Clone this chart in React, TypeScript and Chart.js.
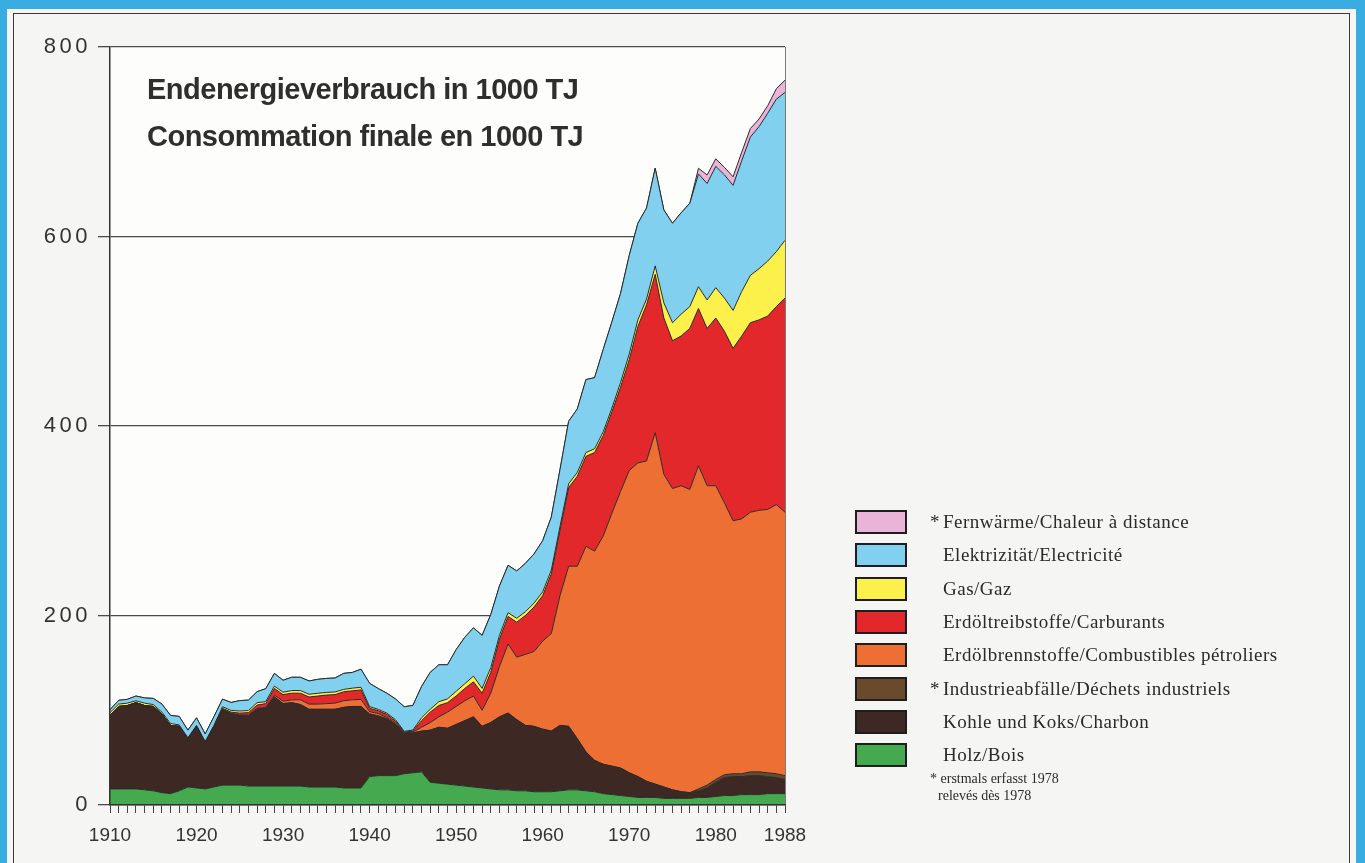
import React, { useEffect, useRef } from "react";
import { Chart, registerables } from "chart.js";

Chart.register(...registerables);

const years: number[] = [];
for (let y = 1910; y <= 1988; y++) years.push(y);

const labelYears = [1910, 1920, 1930, 1940, 1950, 1960, 1970, 1980, 1988];
const yTicks = [0, 200, 400, 600, 800];

const holz = [
  17, 17, 17, 17, 16, 15, 13, 12, 15, 19,
  18, 17, 19, 21, 21, 21, 20, 20, 20, 20,
  20, 20, 20, 19, 19, 19, 19, 18, 18, 18,
  30, 31, 31, 31, 33, 34, 35, 24, 23, 22,
  21, 20, 19, 18, 17, 16, 16, 15, 15, 14,
  14, 14, 15, 16, 16, 15, 14, 12, 11, 10,
  9, 8, 8, 8, 7, 7, 7, 7, 8, 8,
  9, 10, 10, 11, 11, 11, 12, 12, 12,
];
const kohle = [
  78, 87, 88, 91, 89, 89, 83, 72, 68, 51,
  65, 49, 63, 79, 75, 73, 74, 81, 82, 94,
  87, 88, 86, 82, 82, 82, 82, 85, 86, 86,
  66, 63, 60, 54, 42, 42, 43, 55, 59, 59,
  64, 69, 74, 65, 70, 77, 81, 75, 69, 69,
  66, 64, 69, 67, 54, 41, 33, 31, 30, 29,
  25, 22, 17, 14, 12, 9, 7, 6, 7, 10,
  15, 19, 20, 19, 20, 20, 18, 17, 15,
];
const industrie = [
  0, 0, 0, 0, 0, 0, 0, 0, 0, 0,
  0, 0, 0, 0, 0, 0, 0, 0, 0, 0,
  0, 0, 0, 0, 0, 0, 0, 0, 0, 0,
  0, 0, 0, 0, 0, 0, 0, 0, 0, 0,
  0, 0, 0, 0, 0, 0, 0, 0, 0, 0,
  0, 0, 0, 0, 0, 0, 0, 0, 0, 0,
  0, 0, 0, 0, 0, 0, 0, 0, 2, 3,
  3, 3, 3, 3, 4, 4, 4, 4, 4,
];
const brennstoffe = [
  0, 0, 0, 0, 0, 0, 0, 0, 0, 0,
  0, 0, 0, 1, 1, 1, 1, 1, 1, 2,
  2.5, 3, 5, 5.5, 5.5, 6, 6.5, 7, 7, 7.5,
  2.5, 2.5, 1.5, 1.5, 1, 1, 4, 8, 11, 17,
  19, 21, 22, 17, 31, 53, 73, 66, 75, 79,
  93, 103, 137, 169, 182, 217, 221, 241, 267, 292,
  319, 331, 338, 371, 330, 318, 323, 320, 341, 316,
  310, 287, 267, 269, 274, 276, 278, 284, 278,
];
const treibstoffe = [
  0, 0, 0, 0, 0, 0, 0, 0, 0, 0,
  0, 0, 0.5, 1, 1, 2, 2.5, 3.5, 4, 7,
  7, 7, 7, 7.5, 8.5, 9, 9, 9.5, 9.5, 10,
  3.5, 3, 3, 2, 1, 1, 7, 11, 12, 10,
  11, 13, 15, 18, 22, 29, 29, 37, 41, 47,
  48, 63, 69, 83, 95, 95, 104, 106, 107, 110,
  117, 144, 165, 167, 165, 156, 158, 170, 166, 166,
  177, 181, 182, 193, 200, 201, 204, 209, 226,
];
const gas = [
  2.5, 2.5, 2.5, 2, 2.5, 2, 2, 2, 1.5, 1,
  1, 1, 1.5, 1.7, 1.8, 2.2, 2.2, 2.5, 2.1, 2.5,
  2.5, 2.8, 2.8, 2.9, 2.9, 2.8, 2.8, 2.5, 2.8, 2.8,
  1.8, 1.4, 1.4, 1.4, 0.7, 1.1, 3, 3, 4, 4,
  5, 5, 6, 5, 5, 4, 4, 4, 4, 4,
  4, 4, 4, 4, 4, 4, 4, 4, 4, 5,
  6, 7, 6, 9, 16, 19, 23, 23, 23, 30,
  32, 35, 40, 47, 50, 54, 58, 58, 61,
];
const elektrizitaet = [
  3, 4, 4, 5, 5.5, 6.5, 8.5, 8.5, 9, 8,
  8, 8, 9, 8, 8.4, 11, 11, 11.6, 13.7, 13.4,
  12.6, 14, 14, 14, 14.7, 14.8, 14.7, 16.9, 16.6, 19,
  24.6, 22, 21, 22, 26, 26, 33, 39, 39, 36,
  44, 49, 51, 56, 56, 52, 50, 50, 51, 52,
  54, 56, 60, 66, 67, 77, 75, 87, 91, 94,
  104, 102, 96, 103, 98, 105, 107, 109, 119, 123,
  128, 130, 132, 138, 146, 150, 156, 161, 156,
];
const fernwaerme = [
  0, 0, 0, 0, 0, 0, 0, 0, 0, 0,
  0, 0, 0, 0, 0, 0, 0, 0, 0, 0,
  0, 0, 0, 0, 0, 0, 0, 0, 0, 0,
  0, 0, 0, 0, 0, 0, 0, 0, 0, 0,
  0, 0, 0, 0, 0, 0, 0, 0, 0, 0,
  0, 0, 0, 0, 0, 0, 0, 0, 0, 0,
  0, 0, 0, 0, 0, 0, 0, 0, 6, 9,
  8, 8, 9, 9, 9, 8, 8, 11, 13,
];

const seriesNames = [
  "Holz/Bois",
  "Kohle und Koks/Charbon",
  "Industrieabfälle/Déchets industriels",
  "Erdölbrennstoffe/Combustibles pétroliers",
  "Erdöltreibstoffe/Carburants",
  "Gas/Gaz",
  "Elektrizität/Electricité",
  "Fernwärme/Chaleur à distance",
];
const seriesColors = [
  "#44a94f",
  "#3d2823",
  "#6a4a2c",
  "#ee6f33",
  "#e3282c",
  "#fbf14a",
  "#82d0ef",
  "#e9b4d7",
];
const seriesData = [holz, kohle, industrie, brennstoffe, treibstoffe, gas, elektrizitaet, fernwaerme];
const starred = [false, false, true, false, false, false, false, true];

const SANS = "'Liberation Sans', Arial, Helvetica, sans-serif";
const SERIF = "'Liberation Serif', 'Times New Roman', serif";

const framePlugin = {
  id: "frame",
  beforeDraw(chart: any) {
    const { ctx, chartArea: a } = chart;
    (ctx as any).letterSpacing = "0px";
    ctx.save();
    ctx.fillStyle = "#fdfdfc";
    ctx.fillRect(a.left, a.top, a.right - a.left, a.bottom - a.top);
    ctx.restore();
  },
  afterDatasetsDraw(chart: any) {
    const { ctx, chartArea: a } = chart;
    ctx.save();
    ctx.strokeStyle = "#7a7a7a";
    ctx.lineWidth = 1;
    ctx.beginPath();
    ctx.moveTo(a.right + 0.5, a.top);
    ctx.lineTo(a.right + 0.5, a.bottom);
    ctx.stroke();
    ctx.restore();
    (ctx as any).letterSpacing = "3.5px";
  },
  afterDraw(chart: any) {
    (chart.ctx as any).letterSpacing = "0px";
  },
};

function EnergyChart() {
  const ref = useRef<HTMLCanvasElement | null>(null);
  useEffect(() => {
    if (!ref.current) return;
    const datasets = seriesData.map((arr, i) => ({
      label: seriesNames[i],
      data: arr.map((v, j) => ({ x: years[j], y: v })),
      backgroundColor: seriesColors[i],
      borderColor: "#2a2a2a",
      borderWidth: 1,
      pointRadius: 0,
      tension: 0,
      fill: i === 0 ? "origin" : "-1",
    }));
    const chart = new Chart(ref.current, {
      type: "line",
      data: { datasets: datasets as any },
      plugins: [framePlugin as any],
      options: {
        responsive: false,
        animation: false,
        devicePixelRatio: 1,
        layout: { padding: { left: 0, top: 47, right: 1365 - 785, bottom: 0 } },
        plugins: {
          legend: { display: false },
          tooltip: { enabled: false },
          title: { display: false },
        },
        scales: {
          x: {
            type: "linear",
            min: 1910,
            max: 1988,
            afterBuildTicks: (s: any) => {
              s.ticks = years.map((v) => ({ value: v }));
            },
            afterFit: (s: any) => {
              s.height = 58;
            },
            ticks: {
              autoSkip: false,
              maxRotation: 0,
              minRotation: 0,
              padding: 11,
              color: "#333",
              font: { family: SANS, size: 19 },
              callback: (v: any) => (labelYears.includes(Number(v)) ? String(v) : ""),
            },
            grid: {
              drawOnChartArea: false,
              tickLength: 8,
              color: "#444",
              lineWidth: 1,
            },
            border: { display: true, color: "#333", width: 1.5, z: 1 },
          },
          y: {
            type: "linear",
            stacked: true,
            min: 0,
            max: 800,
            afterBuildTicks: (s: any) => {
              s.ticks = yTicks.map((v) => ({ value: v }));
            },
            afterFit: (s: any) => {
              s.width = 110;
            },
            ticks: {
              padding: 7,
              color: "#333",
              z: 1,
              font: { family: SANS, size: 22 },
              callback: (v: any) => String(v),
            },
            grid: {
              tickLength: 12,
              color: "#4a4a4a",
              lineWidth: 1.3,
            },
            border: { display: true, color: "#333", width: 1.5, z: 1 },
          },
        },
      } as any,
    });
    return () => chart.destroy();
  }, []);
  return (
    <canvas
      ref={ref}
      width={1365}
      height={863}
      style={{ position: "absolute", left: 0, top: 0, width: 1365, height: 863 }}
    />
  );
}

export default function App() {
  const legendOrder = [7, 6, 5, 4, 3, 2, 1, 0];
  return (
    <div
      style={{
        position: "fixed",
        left: 0,
        top: 0,
        width: 1365,
        height: 863,
        overflow: "hidden",
        background: "#38ade2",
      }}
    >
      <div
        style={{
          position: "absolute",
          left: 7,
          top: 9,
          width: 1349,
          height: 900,
          background: "#f5f5f3",
        }}
      />
      <div
        style={{
          position: "absolute",
          left: 13,
          top: 13,
          width: 1337,
          height: 900,
          boxSizing: "border-box",
          border: "1.5px solid #3a3a3a",
        }}
      />
      <EnergyChart />
      <div
        style={{
          position: "absolute",
          left: 147,
          top: 66,
          fontFamily: SANS,
          fontWeight: 700,
          fontSize: 29,
          lineHeight: "47px",
          letterSpacing: "-0.5px",
          color: "#2e2e2e",
          whiteSpace: "nowrap",
        }}
      >
        <div>Endenergieverbrauch in 1000 TJ</div>
        <div>Consommation finale en 1000 TJ</div>
      </div>
      {legendOrder.map((si, k) => {
        const cy = 522 + 33.3 * k;
        return (
          <React.Fragment key={si}>
            <div
              style={{
                position: "absolute",
                left: 855,
                top: cy - 12,
                width: 52,
                height: 24,
                boxSizing: "border-box",
                border: "2.5px solid #1e1e1e",
                background: seriesColors[si],
              }}
            />
            {starred[si] && (
              <div
                style={{
                  position: "absolute",
                  left: 930,
                  top: cy - 12,
                  lineHeight: "24px",
                  fontFamily: SERIF,
                  fontSize: 19,
                  color: "#2a2a2a",
                }}
              >
                *
              </div>
            )}
            <div
              style={{
                position: "absolute",
                left: 943,
                top: cy - 12,
                lineHeight: "24px",
                fontFamily: SERIF,
                fontSize: 19,
                letterSpacing: "0.5px",
                color: "#2a2a2a",
                whiteSpace: "nowrap",
              }}
            >
              {seriesNames[si]}
            </div>
          </React.Fragment>
        );
      })}
      <div
        style={{
          position: "absolute",
          left: 930,
          top: 770,
          fontFamily: SERIF,
          fontSize: 14,
          lineHeight: "17px",
          color: "#2a2a2a",
          whiteSpace: "nowrap",
        }}
      >
        <div>* erstmals erfasst 1978</div>
        <div style={{ paddingLeft: 8 }}>relevés dès 1978</div>
      </div>
    </div>
  );
}
